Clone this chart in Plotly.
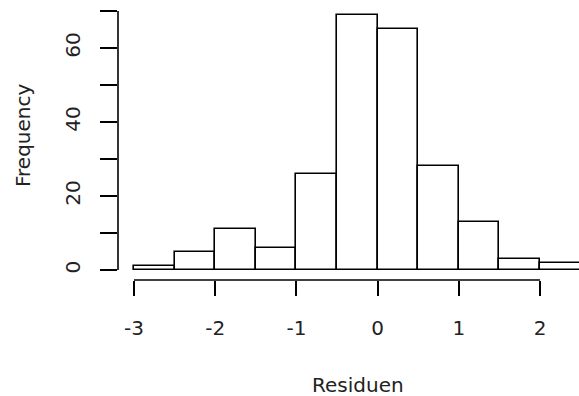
import plotly.graph_objects as go

# Histogram of residuals (R base hist style)
bin_edges = [-3.0, -2.5, -2.0, -1.5, -1.0, -0.5, 0.0, 0.5, 1.0, 1.5, 2.0, 2.5]
counts = [1, 5, 11, 6, 26, 69, 65, 28, 13, 3, 2]
x_ticks = [-3, -2, -1, 0, 1, 2]
x_tick_labels = ["-3", "-2", "-1", "0", "1", "2"]
y_ticks = [0, 10, 20, 30, 40, 50, 60, 70]
y_tick_labels = ["0", "", "20", "", "40", "", "60", ""]
x_title = "Residuen"
y_title = "Frequency"

centers = [(a + b) / 2 for a, b in zip(bin_edges[:-1], bin_edges[1:])]
widths = [b - a for a, b in zip(bin_edges[:-1], bin_edges[1:])]

W, H = 579, 396
ml, mr, mt, mb = 118, 0, 5, 116
font = dict(family="DejaVu Sans", size=20, color="#222222")
lw = 1.6

fig = go.Figure(
    go.Bar(
        x=centers,
        y=counts,
        width=widths,
        marker=dict(color="white", line=dict(color="black", width=lw)),
        hoverinfo="x+y",
    )
)

fig.update_layout(
    width=W,
    height=H,
    margin=dict(l=ml, r=mr, t=mt, b=mb, pad=0),
    paper_bgcolor="white",
    plot_bgcolor="white",
    showlegend=False,
    bargap=0,
    font=font,
)

fig.update_xaxes(
    range=[-3.197, 2.480],
    tickvals=x_ticks,
    ticktext=x_tick_labels,
    ticks="outside",
    ticklen=15,
    tickwidth=lw,
    tickcolor="black",
    ticklabelstandoff=15,
    showline=False,
    showgrid=False,
    zeroline=False,
    tickfont=font,
)
fig.update_yaxes(
    range=[-2.7027, 71.62],
    tickvals=y_ticks,
    ticktext=y_tick_labels,
    ticks="outside",
    ticklen=17,
    tickwidth=lw,
    tickcolor="black",
    tickangle=-90,
    ticklabelstandoff=12,
    showline=False,
    showgrid=False,
    zeroline=False,
    tickfont=font,
)

# R-style detached axis lines spanning only the tick range
fig.add_shape(type="line", xref="x", yref="paper",
              x0=x_ticks[0], x1=x_ticks[-1], y0=0, y1=0,
              line=dict(color="black", width=lw))
fig.add_shape(type="line", xref="paper", yref="y",
              x0=0, x1=0, y0=y_ticks[0], y1=y_ticks[-1],
              line=dict(color="black", width=lw))

plot_w = W - ml - mr
plot_h = H - mt - mb
fig.add_annotation(text=x_title, xref="paper", yref="paper",
                   x=(357.5 - ml) / plot_w, y=(H - mb - 385) / plot_h,
                   showarrow=False, font=font, xanchor="center", yanchor="middle")
fig.add_annotation(text=y_title, xref="paper", yref="paper",
                   x=(23 - ml) / plot_w, y=(H - mb - 136) / plot_h,
                   showarrow=False, font=font, textangle=-90,
                   xanchor="center", yanchor="middle")

fig.write_html(
    "out.html",
    config={"displayModeBar": False},
    post_script="document.body.style.margin='0';document.body.style.overflow='hidden';",
)
